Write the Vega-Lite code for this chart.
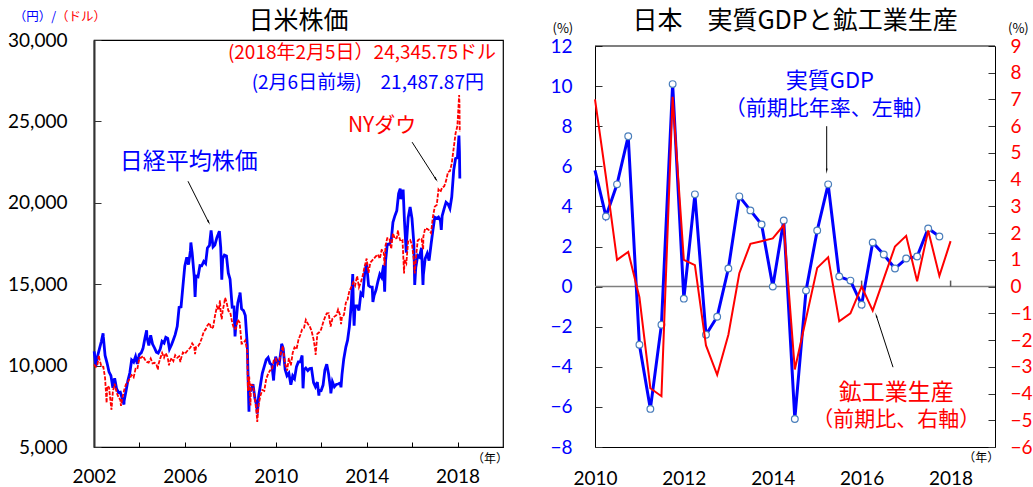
{
  "$schema": "https://vega.github.io/schema/vega-lite/v6.json",
  "background": "white",
  "padding": {"left": 6, "top": 8, "right": 0, "bottom": 0},
  "spacing": 40,
  "config": {
    "view": {"stroke": null},
    "axis": {"labelFont": "Lato", "grid": false},
    "text": {"font": "Noto Sans CJK JP"}
  },
  "datasets": {
    "nikkei": [
      {"d": "2002-01-04", "v": 10871}, {"d": "2002-01-31", "v": 9998}, {"d": "2002-02-28", "v": 10588}, {"d": "2002-03-29", "v": 11025},
      {"d": "2002-04-30", "v": 11493}, {"d": "2002-05-27", "v": 11980}, {"d": "2002-05-31", "v": 11764}, {"d": "2002-06-28", "v": 10622},
      {"d": "2002-07-31", "v": 10140}, {"d": "2002-08-30", "v": 9620}, {"d": "2002-09-30", "v": 9383}, {"d": "2002-10-31", "v": 8640},
      {"d": "2002-11-29", "v": 9216}, {"d": "2002-12-30", "v": 8579}, {"d": "2003-01-31", "v": 8340}, {"d": "2003-02-28", "v": 8363},
      {"d": "2003-03-31", "v": 7973}, {"d": "2003-04-28", "v": 7608}, {"d": "2003-04-30", "v": 7831}, {"d": "2003-05-30", "v": 8425},
      {"d": "2003-06-30", "v": 9083}, {"d": "2003-07-31", "v": 9563}, {"d": "2003-08-29", "v": 10344}, {"d": "2003-09-30", "v": 10219},
      {"d": "2003-10-31", "v": 10560}, {"d": "2003-11-28", "v": 10101}, {"d": "2003-12-30", "v": 10677}, {"d": "2004-01-30", "v": 10784},
      {"d": "2004-02-27", "v": 11042}, {"d": "2004-03-31", "v": 11715}, {"d": "2004-04-26", "v": 12163}, {"d": "2004-04-30", "v": 11762},
      {"d": "2004-05-31", "v": 11236}, {"d": "2004-06-30", "v": 11859}, {"d": "2004-07-30", "v": 11326}, {"d": "2004-08-31", "v": 11082},
      {"d": "2004-09-30", "v": 10824}, {"d": "2004-10-29", "v": 10771}, {"d": "2004-11-30", "v": 11013}, {"d": "2004-12-30", "v": 11489},
      {"d": "2005-01-31", "v": 11388}, {"d": "2005-02-28", "v": 11740}, {"d": "2005-03-31", "v": 11669}, {"d": "2005-04-28", "v": 11009},
      {"d": "2005-05-31", "v": 11277}, {"d": "2005-06-30", "v": 11584}, {"d": "2005-07-29", "v": 11900}, {"d": "2005-08-31", "v": 12414},
      {"d": "2005-09-30", "v": 13574}, {"d": "2005-10-31", "v": 13607}, {"d": "2005-11-30", "v": 14872}, {"d": "2005-12-30", "v": 16111},
      {"d": "2006-01-31", "v": 16650}, {"d": "2006-02-28", "v": 16205}, {"d": "2006-03-31", "v": 17060}, {"d": "2006-04-07", "v": 17563},
      {"d": "2006-04-28", "v": 16906}, {"d": "2006-05-31", "v": 15467}, {"d": "2006-06-14", "v": 14219}, {"d": "2006-06-30", "v": 15505},
      {"d": "2006-07-31", "v": 15457}, {"d": "2006-08-31", "v": 16141}, {"d": "2006-09-29", "v": 16128}, {"d": "2006-10-31", "v": 16399},
      {"d": "2006-11-30", "v": 16274}, {"d": "2006-12-29", "v": 17226}, {"d": "2007-01-31", "v": 17383}, {"d": "2007-02-26", "v": 18300},
      {"d": "2007-03-30", "v": 17288}, {"d": "2007-04-27", "v": 17400}, {"d": "2007-05-31", "v": 17876}, {"d": "2007-06-29", "v": 18138},
      {"d": "2007-07-09", "v": 18262}, {"d": "2007-07-31", "v": 17249}, {"d": "2007-08-17", "v": 15273}, {"d": "2007-08-31", "v": 16569},
      {"d": "2007-09-28", "v": 16786}, {"d": "2007-10-31", "v": 16737}, {"d": "2007-11-30", "v": 15681}, {"d": "2007-12-28", "v": 15308},
      {"d": "2008-01-31", "v": 13592}, {"d": "2008-02-29", "v": 13603}, {"d": "2008-03-17", "v": 11787}, {"d": "2008-03-31", "v": 12526},
      {"d": "2008-04-30", "v": 13850}, {"d": "2008-05-30", "v": 14339}, {"d": "2008-06-06", "v": 14489}, {"d": "2008-06-30", "v": 13481},
      {"d": "2008-07-31", "v": 13377}, {"d": "2008-08-29", "v": 13073}, {"d": "2008-09-30", "v": 11260}, {"d": "2008-10-27", "v": 7163},
      {"d": "2008-10-31", "v": 8577}, {"d": "2008-11-28", "v": 8512}, {"d": "2008-12-30", "v": 8860}, {"d": "2009-01-30", "v": 7994},
      {"d": "2009-02-27", "v": 7568}, {"d": "2009-03-10", "v": 7055}, {"d": "2009-03-31", "v": 8110}, {"d": "2009-04-30", "v": 8828},
      {"d": "2009-05-29", "v": 9523}, {"d": "2009-06-30", "v": 9958}, {"d": "2009-07-31", "v": 10357}, {"d": "2009-08-31", "v": 10493},
      {"d": "2009-09-30", "v": 10133}, {"d": "2009-10-30", "v": 10035}, {"d": "2009-11-27", "v": 9081}, {"d": "2009-11-30", "v": 9346},
      {"d": "2009-12-30", "v": 10546}, {"d": "2010-01-29", "v": 10198}, {"d": "2010-02-26", "v": 10126}, {"d": "2010-03-31", "v": 11090},
      {"d": "2010-04-05", "v": 11339}, {"d": "2010-04-30", "v": 11057}, {"d": "2010-05-31", "v": 9769}, {"d": "2010-06-30", "v": 9383},
      {"d": "2010-07-30", "v": 9537}, {"d": "2010-08-31", "v": 8824}, {"d": "2010-09-30", "v": 9369}, {"d": "2010-10-29", "v": 9202},
      {"d": "2010-11-30", "v": 9937}, {"d": "2010-12-30", "v": 10229}, {"d": "2011-01-31", "v": 10237}, {"d": "2011-02-28", "v": 10624},
      {"d": "2011-03-15", "v": 8605}, {"d": "2011-03-31", "v": 9755}, {"d": "2011-04-28", "v": 9850}, {"d": "2011-05-31", "v": 9694},
      {"d": "2011-06-30", "v": 9816}, {"d": "2011-07-29", "v": 9833}, {"d": "2011-08-31", "v": 8955}, {"d": "2011-09-30", "v": 8700},
      {"d": "2011-10-31", "v": 8988}, {"d": "2011-11-25", "v": 8160}, {"d": "2011-11-30", "v": 8435}, {"d": "2011-12-30", "v": 8455},
      {"d": "2012-01-31", "v": 8803}, {"d": "2012-02-29", "v": 9723}, {"d": "2012-03-30", "v": 10084}, {"d": "2012-04-27", "v": 9521},
      {"d": "2012-05-31", "v": 8543}, {"d": "2012-06-04", "v": 8296}, {"d": "2012-06-29", "v": 9007}, {"d": "2012-07-31", "v": 8695},
      {"d": "2012-08-31", "v": 8840}, {"d": "2012-09-28", "v": 8870}, {"d": "2012-10-31", "v": 8928}, {"d": "2012-11-14", "v": 8665},
      {"d": "2012-11-30", "v": 9446}, {"d": "2012-12-28", "v": 10395}, {"d": "2013-01-31", "v": 11139}, {"d": "2013-02-28", "v": 11559},
      {"d": "2013-03-29", "v": 12398}, {"d": "2013-04-30", "v": 13861}, {"d": "2013-05-22", "v": 15627}, {"d": "2013-05-31", "v": 13775},
      {"d": "2013-06-13", "v": 12445}, {"d": "2013-06-28", "v": 13677}, {"d": "2013-07-31", "v": 13668}, {"d": "2013-08-30", "v": 13389},
      {"d": "2013-09-30", "v": 14456}, {"d": "2013-10-31", "v": 14328}, {"d": "2013-11-29", "v": 15662}, {"d": "2013-12-30", "v": 16291},
      {"d": "2014-01-31", "v": 14915}, {"d": "2014-02-28", "v": 14841}, {"d": "2014-03-31", "v": 14828}, {"d": "2014-04-11", "v": 13910},
      {"d": "2014-04-30", "v": 14304}, {"d": "2014-05-30", "v": 14632}, {"d": "2014-06-30", "v": 15162}, {"d": "2014-07-31", "v": 15621},
      {"d": "2014-08-29", "v": 15425}, {"d": "2014-09-30", "v": 16174}, {"d": "2014-10-17", "v": 14533}, {"d": "2014-10-31", "v": 16414},
      {"d": "2014-11-28", "v": 17460}, {"d": "2014-12-30", "v": 17451}, {"d": "2015-01-30", "v": 17674}, {"d": "2015-02-27", "v": 18798},
      {"d": "2015-03-31", "v": 19207}, {"d": "2015-04-30", "v": 19520}, {"d": "2015-05-29", "v": 20563}, {"d": "2015-06-24", "v": 20868},
      {"d": "2015-06-30", "v": 20236}, {"d": "2015-07-31", "v": 20585}, {"d": "2015-08-10", "v": 20808}, {"d": "2015-08-31", "v": 18890},
      {"d": "2015-09-29", "v": 16931}, {"d": "2015-09-30", "v": 17388}, {"d": "2015-10-30", "v": 19083}, {"d": "2015-11-30", "v": 19747},
      {"d": "2015-12-30", "v": 19034}, {"d": "2016-01-29", "v": 17518}, {"d": "2016-02-12", "v": 14953}, {"d": "2016-02-29", "v": 16027},
      {"d": "2016-03-31", "v": 16759}, {"d": "2016-04-28", "v": 16666}, {"d": "2016-05-31", "v": 17235}, {"d": "2016-06-24", "v": 14952},
      {"d": "2016-06-30", "v": 15576}, {"d": "2016-07-29", "v": 16569}, {"d": "2016-08-31", "v": 16887}, {"d": "2016-09-30", "v": 16450},
      {"d": "2016-10-31", "v": 17425}, {"d": "2016-11-30", "v": 18308}, {"d": "2016-12-30", "v": 19114}, {"d": "2017-01-31", "v": 19041},
      {"d": "2017-02-28", "v": 19119}, {"d": "2017-03-31", "v": 18909}, {"d": "2017-04-14", "v": 18336}, {"d": "2017-04-28", "v": 19197},
      {"d": "2017-05-31", "v": 19651}, {"d": "2017-06-30", "v": 20033}, {"d": "2017-07-31", "v": 19925}, {"d": "2017-08-31", "v": 19646},
      {"d": "2017-09-29", "v": 20356}, {"d": "2017-10-31", "v": 22012}, {"d": "2017-11-30", "v": 22725}, {"d": "2017-12-29", "v": 22765},
      {"d": "2018-01-23", "v": 24124}, {"d": "2018-01-31", "v": 23098}, {"d": "2018-02-06", "v": 21488}
    ],
    "dow": [
      {"d": "2002-01-02", "v": 10073}, {"d": "2002-01-31", "v": 9920}, {"d": "2002-02-28", "v": 10106}, {"d": "2002-03-19", "v": 10635},
      {"d": "2002-03-28", "v": 10404}, {"d": "2002-04-30", "v": 9946}, {"d": "2002-05-31", "v": 9925}, {"d": "2002-06-28", "v": 9243},
      {"d": "2002-07-23", "v": 7702}, {"d": "2002-07-31", "v": 8737}, {"d": "2002-08-30", "v": 8664}, {"d": "2002-09-30", "v": 7592},
      {"d": "2002-10-09", "v": 7286}, {"d": "2002-10-31", "v": 8397}, {"d": "2002-11-29", "v": 8896}, {"d": "2002-12-31", "v": 8342},
      {"d": "2003-01-31", "v": 8054}, {"d": "2003-02-28", "v": 7891}, {"d": "2003-03-11", "v": 7524}, {"d": "2003-03-31", "v": 7992},
      {"d": "2003-04-30", "v": 8480}, {"d": "2003-05-30", "v": 8850}, {"d": "2003-06-30", "v": 8985}, {"d": "2003-07-31", "v": 9234},
      {"d": "2003-08-29", "v": 9416}, {"d": "2003-09-30", "v": 9275}, {"d": "2003-10-31", "v": 9801}, {"d": "2003-11-28", "v": 9782},
      {"d": "2003-12-31", "v": 10454}, {"d": "2004-01-30", "v": 10488}, {"d": "2004-02-27", "v": 10584}, {"d": "2004-03-31", "v": 10358},
      {"d": "2004-04-30", "v": 10226}, {"d": "2004-05-28", "v": 10188}, {"d": "2004-06-30", "v": 10435}, {"d": "2004-07-30", "v": 10140},
      {"d": "2004-08-31", "v": 10174}, {"d": "2004-09-30", "v": 10080}, {"d": "2004-10-25", "v": 9750}, {"d": "2004-10-29", "v": 10027},
      {"d": "2004-11-30", "v": 10428}, {"d": "2004-12-31", "v": 10783}, {"d": "2005-01-31", "v": 10490}, {"d": "2005-02-28", "v": 10766},
      {"d": "2005-03-31", "v": 10504}, {"d": "2005-04-20", "v": 10012}, {"d": "2005-04-29", "v": 10193}, {"d": "2005-05-31", "v": 10467},
      {"d": "2005-06-30", "v": 10275}, {"d": "2005-07-29", "v": 10641}, {"d": "2005-08-31", "v": 10482}, {"d": "2005-09-30", "v": 10569},
      {"d": "2005-10-21", "v": 10215}, {"d": "2005-10-31", "v": 10440}, {"d": "2005-11-30", "v": 10806}, {"d": "2005-12-30", "v": 10718},
      {"d": "2006-01-31", "v": 10865}, {"d": "2006-02-28", "v": 10993}, {"d": "2006-03-31", "v": 11109}, {"d": "2006-04-28", "v": 11367},
      {"d": "2006-05-31", "v": 11168}, {"d": "2006-06-13", "v": 10706}, {"d": "2006-06-30", "v": 11150}, {"d": "2006-07-31", "v": 11186},
      {"d": "2006-08-31", "v": 11381}, {"d": "2006-09-29", "v": 11679}, {"d": "2006-10-31", "v": 12081}, {"d": "2006-11-30", "v": 12222},
      {"d": "2006-12-29", "v": 12463}, {"d": "2007-01-31", "v": 12622}, {"d": "2007-02-28", "v": 12269}, {"d": "2007-03-30", "v": 12354},
      {"d": "2007-04-30", "v": 13063}, {"d": "2007-05-31", "v": 13628}, {"d": "2007-06-29", "v": 13409}, {"d": "2007-07-19", "v": 14000},
      {"d": "2007-07-31", "v": 13212}, {"d": "2007-08-16", "v": 12846}, {"d": "2007-08-31", "v": 13358}, {"d": "2007-09-28", "v": 13896},
      {"d": "2007-10-09", "v": 14165}, {"d": "2007-10-31", "v": 13930}, {"d": "2007-11-30", "v": 13372}, {"d": "2007-12-31", "v": 13265},
      {"d": "2008-01-31", "v": 12650}, {"d": "2008-02-29", "v": 12266}, {"d": "2008-03-31", "v": 12263}, {"d": "2008-04-30", "v": 12820},
      {"d": "2008-05-30", "v": 12638}, {"d": "2008-06-30", "v": 11350}, {"d": "2008-07-31", "v": 11378}, {"d": "2008-08-29", "v": 11544},
      {"d": "2008-09-30", "v": 10851}, {"d": "2008-10-10", "v": 8451}, {"d": "2008-10-31", "v": 9325}, {"d": "2008-11-20", "v": 7552},
      {"d": "2008-11-28", "v": 8829}, {"d": "2008-12-31", "v": 8776}, {"d": "2009-01-30", "v": 8001}, {"d": "2009-02-27", "v": 7063},
      {"d": "2009-03-09", "v": 6547}, {"d": "2009-03-31", "v": 7609}, {"d": "2009-04-30", "v": 8168}, {"d": "2009-05-29", "v": 8500},
      {"d": "2009-06-30", "v": 8447}, {"d": "2009-07-31", "v": 9172}, {"d": "2009-08-31", "v": 9496}, {"d": "2009-09-30", "v": 9712},
      {"d": "2009-10-30", "v": 9713}, {"d": "2009-11-30", "v": 10345}, {"d": "2009-12-31", "v": 10428}, {"d": "2010-01-29", "v": 10067},
      {"d": "2010-02-26", "v": 10325}, {"d": "2010-03-31", "v": 10857}, {"d": "2010-04-26", "v": 11205}, {"d": "2010-04-30", "v": 11009},
      {"d": "2010-05-28", "v": 10137}, {"d": "2010-06-30", "v": 9774}, {"d": "2010-07-02", "v": 9686}, {"d": "2010-07-30", "v": 10466},
      {"d": "2010-08-31", "v": 10015}, {"d": "2010-09-30", "v": 10788}, {"d": "2010-10-29", "v": 11118}, {"d": "2010-11-30", "v": 11006},
      {"d": "2010-12-31", "v": 11578}, {"d": "2011-01-31", "v": 11892}, {"d": "2011-02-28", "v": 12226}, {"d": "2011-03-31", "v": 12320},
      {"d": "2011-04-29", "v": 12811}, {"d": "2011-05-31", "v": 12570}, {"d": "2011-06-30", "v": 12414}, {"d": "2011-07-29", "v": 12143},
      {"d": "2011-08-31", "v": 11614}, {"d": "2011-09-30", "v": 10913}, {"d": "2011-10-03", "v": 10655}, {"d": "2011-10-31", "v": 11955},
      {"d": "2011-11-30", "v": 12046}, {"d": "2011-12-30", "v": 12218}, {"d": "2012-01-31", "v": 12633}, {"d": "2012-02-29", "v": 12952},
      {"d": "2012-03-30", "v": 13212}, {"d": "2012-04-30", "v": 13214}, {"d": "2012-05-31", "v": 12393}, {"d": "2012-06-29", "v": 12880},
      {"d": "2012-07-31", "v": 13009}, {"d": "2012-08-31", "v": 13091}, {"d": "2012-09-28", "v": 13437}, {"d": "2012-10-31", "v": 13096},
      {"d": "2012-11-15", "v": 12543}, {"d": "2012-11-30", "v": 13026}, {"d": "2012-12-31", "v": 13104}, {"d": "2013-01-31", "v": 13861},
      {"d": "2013-02-28", "v": 14054}, {"d": "2013-03-28", "v": 14579}, {"d": "2013-04-30", "v": 14840}, {"d": "2013-05-31", "v": 15116},
      {"d": "2013-06-28", "v": 14910}, {"d": "2013-07-31", "v": 15500}, {"d": "2013-08-30", "v": 14810}, {"d": "2013-09-30", "v": 15130},
      {"d": "2013-10-31", "v": 15546}, {"d": "2013-11-29", "v": 16086}, {"d": "2013-12-31", "v": 16577}, {"d": "2014-01-31", "v": 15699},
      {"d": "2014-02-28", "v": 16322}, {"d": "2014-03-31", "v": 16458}, {"d": "2014-04-30", "v": 16581}, {"d": "2014-05-30", "v": 16717},
      {"d": "2014-06-30", "v": 16827}, {"d": "2014-07-31", "v": 16563}, {"d": "2014-08-29", "v": 17098}, {"d": "2014-09-30", "v": 17043},
      {"d": "2014-10-15", "v": 16142}, {"d": "2014-10-31", "v": 17391}, {"d": "2014-11-28", "v": 17828}, {"d": "2014-12-31", "v": 17823},
      {"d": "2015-01-30", "v": 17165}, {"d": "2015-02-27", "v": 18133}, {"d": "2015-03-31", "v": 17776}, {"d": "2015-04-30", "v": 17841},
      {"d": "2015-05-19", "v": 18312}, {"d": "2015-05-29", "v": 18011}, {"d": "2015-06-30", "v": 17620}, {"d": "2015-07-31", "v": 17690},
      {"d": "2015-08-25", "v": 15666}, {"d": "2015-08-31", "v": 16528}, {"d": "2015-09-30", "v": 16285}, {"d": "2015-10-30", "v": 17664},
      {"d": "2015-11-30", "v": 17720}, {"d": "2015-12-31", "v": 17425}, {"d": "2016-01-29", "v": 16466}, {"d": "2016-02-11", "v": 15660},
      {"d": "2016-02-29", "v": 16517}, {"d": "2016-03-31", "v": 17685}, {"d": "2016-04-29", "v": 17774}, {"d": "2016-05-31", "v": 17787},
      {"d": "2016-06-27", "v": 17140}, {"d": "2016-06-30", "v": 17930}, {"d": "2016-07-29", "v": 18432}, {"d": "2016-08-31", "v": 18401},
      {"d": "2016-09-30", "v": 18308}, {"d": "2016-10-31", "v": 18142}, {"d": "2016-11-30", "v": 19124}, {"d": "2016-12-30", "v": 19763},
      {"d": "2017-01-31", "v": 19864}, {"d": "2017-02-28", "v": 20812}, {"d": "2017-03-31", "v": 20663}, {"d": "2017-04-28", "v": 20941},
      {"d": "2017-05-31", "v": 21009}, {"d": "2017-06-30", "v": 21350}, {"d": "2017-07-31", "v": 21891}, {"d": "2017-08-31", "v": 21948},
      {"d": "2017-09-29", "v": 22405}, {"d": "2017-10-31", "v": 23377}, {"d": "2017-11-30", "v": 24272}, {"d": "2017-12-29", "v": 24719},
      {"d": "2018-01-26", "v": 26617}, {"d": "2018-01-31", "v": 26149}, {"d": "2018-02-05", "v": 24346}
    ],
    "gdp": [
      {"t": "2010-01-01", "g": 5.8}, {"t": "2010-04-01", "g": 3.5}, {"t": "2010-07-01", "g": 5.1}, {"t": "2010-10-01", "g": 7.5},
      {"t": "2011-01-01", "g": -2.9}, {"t": "2011-04-01", "g": -6.1}, {"t": "2011-07-01", "g": -1.9}, {"t": "2011-10-01", "g": 10.1},
      {"t": "2012-01-01", "g": -0.6}, {"t": "2012-04-01", "g": 4.6}, {"t": "2012-07-01", "g": -2.4}, {"t": "2012-10-01", "g": -1.5},
      {"t": "2013-01-01", "g": 0.9}, {"t": "2013-04-01", "g": 4.5}, {"t": "2013-07-01", "g": 3.8}, {"t": "2013-10-01", "g": 3.1},
      {"t": "2014-01-01", "g": 0.0}, {"t": "2014-04-01", "g": 3.3}, {"t": "2014-07-01", "g": -6.6}, {"t": "2014-10-01", "g": -0.2},
      {"t": "2015-01-01", "g": 2.8}, {"t": "2015-04-01", "g": 5.1}, {"t": "2015-07-01", "g": 0.5}, {"t": "2015-10-01", "g": 0.3},
      {"t": "2016-01-01", "g": -0.9}, {"t": "2016-04-01", "g": 2.2}, {"t": "2016-07-01", "g": 1.6}, {"t": "2016-10-01", "g": 0.9},
      {"t": "2017-01-01", "g": 1.4}, {"t": "2017-04-01", "g": 1.5}, {"t": "2017-07-01", "g": 2.9}, {"t": "2017-10-01", "g": 2.5}
    ],
    "ip": [
      {"t": "2010-01-01", "p": 7.0}, {"t": "2010-04-01", "p": 4.1}, {"t": "2010-07-01", "p": 1.0}, {"t": "2010-10-01", "p": 1.3},
      {"t": "2011-01-01", "p": -0.4}, {"t": "2011-04-01", "p": -3.8}, {"t": "2011-07-01", "p": -4.1}, {"t": "2011-10-01", "p": 7.1},
      {"t": "2012-01-01", "p": 1.0}, {"t": "2012-04-01", "p": 0.8}, {"t": "2012-07-01", "p": -2.2}, {"t": "2012-10-01", "p": -3.3},
      {"t": "2013-01-01", "p": -1.8}, {"t": "2013-04-01", "p": 0.5}, {"t": "2013-07-01", "p": 1.6}, {"t": "2013-10-01", "p": 1.7},
      {"t": "2014-01-01", "p": 1.8}, {"t": "2014-04-01", "p": 2.3}, {"t": "2014-07-01", "p": -3.1}, {"t": "2014-10-01", "p": -1.2},
      {"t": "2015-01-01", "p": 0.7}, {"t": "2015-04-01", "p": 1.1}, {"t": "2015-07-01", "p": -1.3}, {"t": "2015-10-01", "p": -1.0},
      {"t": "2016-01-01", "p": 0.0}, {"t": "2016-04-01", "p": -0.9}, {"t": "2016-07-01", "p": 0.3}, {"t": "2016-10-01", "p": 1.5},
      {"t": "2017-01-01", "p": 1.9}, {"t": "2017-04-01", "p": 0.2}, {"t": "2017-07-01", "p": 2.1}, {"t": "2017-10-01", "p": 0.4},
      {"t": "2018-01-01", "p": 1.7}
    ],
    "zt": [{"t": "2012-01-01"}, {"t": "2014-01-01"}, {"t": "2016-01-01"}, {"t": "2018-01-01"}]
  },
  "hconcat": [
    {
      "width": 409,
      "height": 407,
      "view": {"stroke": "black", "strokeWidth": 1.2},
      "title": {"text": "日米株価", "font": "Noto Sans CJK JP", "fontSize": 25, "fontWeight": "normal", "color": "black", "offset": -23},
      "layer": [
        {
          "data": {"name": "nikkei"},
          "mark": {"type": "line", "color": "#0000FF", "strokeWidth": 2.8},
          "encoding": {
            "x": {"field": "d", "type": "temporal",
              "scale": {"domain": [{"year": 2002, "month": 1, "date": 1}, {"year": 2020, "month": 1, "date": 1}]},
              "axis": {"title": null, "values": [{"year": 2002}, {"year": 2003}, {"year": 2004}, {"year": 2005}, {"year": 2006}, {"year": 2007}, {"year": 2008}, {"year": 2009}, {"year": 2010}, {"year": 2011}, {"year": 2012}, {"year": 2013}, {"year": 2014}, {"year": 2015}, {"year": 2016}, {"year": 2017}, {"year": 2018}, {"year": 2019}],
                "format": "%Y", "labelExpr": "year(datum.value) % 4 == 2 ? datum.label : ''",
                "tickSize": -5, "tickColor": "black", "domainColor": "black", "labelFontSize": 19, "labelColor": "black", "labelPadding": 25, "labelOverlap": false, "labelFlush": false}},
            "y": {"field": "v", "type": "quantitative",
              "scale": {"domain": [5000, 30000]},
              "axis": {"title": null, "values": [5000, 10000, 15000, 20000, 25000, 30000], "format": ",d", "tickSize": -7, "tickColor": "#333333", "domainColor": "#333333", "domainWidth": 2, "labelFontSize": 19, "labelColor": "black", "labelPadding": 34}}
          }
        },
        {
          "data": {"name": "dow"},
          "mark": {"type": "line", "color": "#FF0000", "strokeWidth": 1.8, "strokeDash": [4, 1.5]},
          "encoding": {"x": {"field": "d", "type": "temporal", "scale": {"domain": [{"year": 2002, "month": 1, "date": 1}, {"year": 2020, "month": 1, "date": 1}]}},
                       "y": {"field": "v", "type": "quantitative", "scale": {"domain": [5000, 30000]}}}
        },
        {
          "data": {"values": [{}]},
          "mark": {"type": "text", "text": "(2018年2月5日）24,345.75ドル", "align": "right", "baseline": "middle", "fontSize": 19, "color": "#FF0000"},
          "encoding": {"x": {"datum": {"year": 2019, "month": 9, "date": 10}, "type": "temporal", "scale": {"domain": [{"year": 2002, "month": 1, "date": 1}, {"year": 2020, "month": 1, "date": 1}]}},
                       "y": {"datum": 29209, "type": "quantitative", "scale": {"domain": [5000, 30000]}}}
        },
        {
          "data": {"values": [{}]},
          "mark": {"type": "text", "text": "(2月6日前場)　21,487.87円", "align": "right", "baseline": "middle", "fontSize": 19, "color": "#0000FF"},
          "encoding": {"x": {"datum": {"year": 2019, "month": 3, "date": 1}, "type": "temporal", "scale": {"domain": [{"year": 2002, "month": 1, "date": 1}, {"year": 2020, "month": 1, "date": 1}]}},
                       "y": {"datum": 27361, "type": "quantitative", "scale": {"domain": [5000, 30000]}}}
        },
        {
          "data": {"values": [{}]},
          "mark": {"type": "text", "text": "日経平均株価", "align": "left", "baseline": "middle", "fontSize": 23, "color": "#0000FF"},
          "encoding": {"x": {"datum": {"year": 2003, "month": 2, "date": 20}, "type": "temporal", "scale": {"domain": [{"year": 2002, "month": 1, "date": 1}, {"year": 2020, "month": 1, "date": 1}]}},
                       "y": {"datum": 22494, "type": "quantitative", "scale": {"domain": [5000, 30000]}}}
        },
        {
          "data": {"values": [{}]},
          "mark": {"type": "text", "text": "NYダウ", "align": "left", "baseline": "middle", "fontSize": 21, "color": "#FF0000"},
          "encoding": {"x": {"datum": {"year": 2013, "month": 3, "date": 5}, "type": "temporal", "scale": {"domain": [{"year": 2002, "month": 1, "date": 1}, {"year": 2020, "month": 1, "date": 1}]}},
                       "y": {"datum": 24712, "type": "quantitative", "scale": {"domain": [5000, 30000]}}}
        },
        {
          "data": {"values": [{}]},
          "mark": {"type": "rule", "color": "black", "strokeWidth": 1},
          "encoding": {"x": {"datum": {"year": 2006, "month": 2, "date": 20}, "type": "temporal", "scale": {"domain": [{"year": 2002, "month": 1, "date": 1}, {"year": 2020, "month": 1, "date": 1}]}},
                       "y": {"datum": 21324, "type": "quantitative", "scale": {"domain": [5000, 30000]}},
                       "x2": {"datum": {"year": 2007, "month": 1, "date": 20}}, "y2": {"datum": 18780}}
        },
        {
          "data": {"values": [{}]},
          "mark": {"type": "point", "shape": "wedge", "filled": true, "color": "black", "size": 40, "angle": 153, "opacity": 1},
          "encoding": {"x": {"datum": {"year": 2007, "month": 1, "date": 15}, "type": "temporal", "scale": {"domain": [{"year": 2002, "month": 1, "date": 1}, {"year": 2020, "month": 1, "date": 1}]}},
                       "y": {"datum": 18830, "type": "quantitative", "scale": {"domain": [5000, 30000]}}}
        },
        {
          "data": {"values": [{}]},
          "mark": {"type": "rule", "color": "black", "strokeWidth": 1},
          "encoding": {"x": {"datum": {"year": 2016, "month": 1, "date": 1}, "type": "temporal", "scale": {"domain": [{"year": 2002, "month": 1, "date": 1}, {"year": 2020, "month": 1, "date": 1}]}},
                       "y": {"datum": 23726, "type": "quantitative", "scale": {"domain": [5000, 30000]}},
                       "x2": {"datum": {"year": 2017, "month": 1, "date": 25}}, "y2": {"datum": 21400}}
        },
        {
          "data": {"values": [{}]},
          "mark": {"type": "point", "shape": "wedge", "filled": true, "color": "black", "size": 40, "angle": 147, "opacity": 1},
          "encoding": {"x": {"datum": {"year": 2017, "month": 1, "date": 15}, "type": "temporal", "scale": {"domain": [{"year": 2002, "month": 1, "date": 1}, {"year": 2020, "month": 1, "date": 1}]}},
                       "y": {"datum": 21472, "type": "quantitative", "scale": {"domain": [5000, 30000]}}}
        },
        {
          "data": {"values": [{}]},
          "mark": {"type": "text", "text": "（年）", "align": "center", "baseline": "middle", "fontSize": 12, "color": "black"},
          "encoding": {"x": {"datum": {"year": 2019, "month": 6, "date": 5}, "type": "temporal", "scale": {"domain": [{"year": 2002, "month": 1, "date": 1}, {"year": 2020, "month": 1, "date": 1}]}},
                       "y": {"datum": 4261, "type": "quantitative", "scale": {"domain": [5000, 30000]}}}
        },
        {
          "data": {"values": [{}]},
          "mark": {"type": "text", "text": "（円）/", "align": "right", "baseline": "middle", "fontSize": 12.5, "color": "#0000FF"},
          "encoding": {"x": {"datum": {"year": 2000, "month": 5, "date": 1}, "type": "temporal", "scale": {"domain": [{"year": 2002, "month": 1, "date": 1}, {"year": 2020, "month": 1, "date": 1}]}},
                       "y": {"datum": 31426, "type": "quantitative", "scale": {"domain": [5000, 30000]}}}
        },
        {
          "data": {"values": [{}]},
          "mark": {"type": "text", "text": "（ドル）", "align": "left", "baseline": "middle", "fontSize": 12.5, "color": "#FF0000"},
          "encoding": {"x": {"datum": {"year": 2000, "month": 5, "date": 1}, "type": "temporal", "scale": {"domain": [{"year": 2002, "month": 1, "date": 1}, {"year": 2020, "month": 1, "date": 1}]}},
                       "y": {"datum": 31426, "type": "quantitative", "scale": {"domain": [5000, 30000]}}}
        }
      ]
    },
    {
      "width": 400,
      "height": 407,
      "title": {"text": "日本　実質GDPと鉱工業生産", "font": "Noto Sans CJK JP", "fontSize": 25, "fontWeight": "normal", "color": "black", "offset": -11},
      "layer": [
        {
          "layer": [
            {
              "data": {"values": [{}]},
              "mark": {"type": "rule", "color": "#7f7f7f", "strokeWidth": 1.5},
              "encoding": {"y": {"datum": 0, "type": "quantitative", "scale": {"domain": [-8, 12], "range": [407, 6]}}}
            },
            {
              "data": {"values": [{}]},
              "mark": {"type": "rule", "color": "black", "strokeWidth": 1.2},
              "encoding": {"y": {"datum": 12, "type": "quantitative", "scale": {"domain": [-8, 12], "range": [407, 6]}}}
            },
            {
              "data": {"name": "zt"},
              "mark": {"type": "rule", "color": "#595959", "strokeWidth": 1.5},
              "encoding": {"x": {"field": "t", "type": "temporal", "scale": {"domain": [{"year": 2010, "month": 1, "date": 1}, {"year": 2019, "month": 1, "date": 1}]}},
                           "y": {"datum": 0, "type": "quantitative", "scale": {"domain": [-8, 12], "range": [407, 6]}}, "y2": {"datum": 0.3}}
            },
            {
              "data": {"name": "gdp"},
              "mark": {"type": "line", "color": "#0000FF", "strokeWidth": 3},
              "encoding": {
                "x": {"field": "t", "type": "temporal",
                  "scale": {"domain": [{"year": 2010, "month": 1, "date": 1}, {"year": 2019, "month": 1, "date": 1}]},
                  "axis": {"title": null, "values": [{"year": 2010}, {"year": 2012}, {"year": 2014}, {"year": 2016}, {"year": 2018}], "format": "%Y",
                    "ticks": false, "domainColor": "black", "labelFontSize": 19, "labelColor": "black", "labelPadding": 22, "labelFlush": false, "labelOverlap": false}},
                "y": {"field": "g", "type": "quantitative",
                  "scale": {"domain": [-8, 12], "range": [407, 6]},
                  "axis": {"title": null, "values": [-8, -6, -4, -2, 0, 2, 4, 6, 8, 10, 12], "tickSize": -7, "tickColor": "#333333", "domainColor": "black", "labelFontSize": 19, "labelColor": "#0000FF", "labelPadding": 30}}
              }
            },
            {
              "data": {"name": "gdp"},
              "transform": [{"filter": "datum.g !== 5.8"}],
              "mark": {"type": "point", "shape": "circle", "filled": true, "fill": "white", "stroke": "#4a7ebb", "strokeWidth": 1.2, "size": 45, "opacity": 1},
              "encoding": {"x": {"field": "t", "type": "temporal", "scale": {"domain": [{"year": 2010, "month": 1, "date": 1}, {"year": 2019, "month": 1, "date": 1}]}},
                           "y": {"field": "g", "type": "quantitative", "scale": {"domain": [-8, 12], "range": [407, 6]}}}
            },
            {
              "data": {"values": [{}]},
              "mark": {"type": "text", "text": "実質GDP", "align": "center", "baseline": "middle", "fontSize": 22, "color": "#0000FF"},
              "encoding": {"x": {"datum": {"year": 2015, "month": 4, "date": 15}, "type": "temporal", "scale": {"domain": [{"year": 2010, "month": 1, "date": 1}, {"year": 2019, "month": 1, "date": 1}]}},
                           "y": {"datum": 10.25, "type": "quantitative", "scale": {"domain": [-8, 12], "range": [407, 6]}}}
            },
            {
              "data": {"values": [{}]},
              "mark": {"type": "text", "text": "（前期比年率、左軸）", "align": "center", "baseline": "middle", "fontSize": 21, "color": "#0000FF"},
              "encoding": {"x": {"datum": {"year": 2015, "month": 4, "date": 15}, "type": "temporal", "scale": {"domain": [{"year": 2010, "month": 1, "date": 1}, {"year": 2019, "month": 1, "date": 1}]}},
                           "y": {"datum": 8.86, "type": "quantitative", "scale": {"domain": [-8, 12], "range": [407, 6]}}}
            },
            {
              "data": {"values": [{}]},
              "mark": {"type": "rule", "color": "black", "strokeWidth": 1},
              "encoding": {"x": {"datum": {"year": 2015, "month": 3, "date": 20}, "type": "temporal", "scale": {"domain": [{"year": 2010, "month": 1, "date": 1}, {"year": 2019, "month": 1, "date": 1}]}},
                           "y": {"datum": 8.0, "type": "quantitative", "scale": {"domain": [-8, 12], "range": [407, 6]}}, "y2": {"datum": 5.8}}
            },
            {
              "data": {"values": [{}]},
              "mark": {"type": "point", "shape": "wedge", "filled": true, "color": "black", "size": 40, "angle": 180, "opacity": 1},
              "encoding": {"x": {"datum": {"year": 2015, "month": 3, "date": 20}, "type": "temporal", "scale": {"domain": [{"year": 2010, "month": 1, "date": 1}, {"year": 2019, "month": 1, "date": 1}]}},
                           "y": {"datum": 5.8, "type": "quantitative", "scale": {"domain": [-8, 12], "range": [407, 6]}}}
            },
            {
              "data": {"values": [{}]},
              "mark": {"type": "text", "text": "鉱工業生産", "align": "center", "baseline": "middle", "fontSize": 23, "color": "#FF0000"},
              "encoding": {"x": {"datum": {"year": 2016, "month": 10, "date": 12}, "type": "temporal", "scale": {"domain": [{"year": 2010, "month": 1, "date": 1}, {"year": 2019, "month": 1, "date": 1}]}},
                           "y": {"datum": -5.3, "type": "quantitative", "scale": {"domain": [-8, 12], "range": [407, 6]}}}
            },
            {
              "data": {"values": [{}]},
              "mark": {"type": "text", "text": "（前期比、右軸）", "align": "center", "baseline": "middle", "fontSize": 21, "color": "#FF0000"},
              "encoding": {"x": {"datum": {"year": 2016, "month": 10, "date": 12}, "type": "temporal", "scale": {"domain": [{"year": 2010, "month": 1, "date": 1}, {"year": 2019, "month": 1, "date": 1}]}},
                           "y": {"datum": -6.65, "type": "quantitative", "scale": {"domain": [-8, 12], "range": [407, 6]}}}
            },
            {
              "data": {"values": [{}]},
              "mark": {"type": "rule", "color": "black", "strokeWidth": 1},
              "encoding": {"x": {"datum": {"year": 2016, "month": 9, "date": 15}, "type": "temporal", "scale": {"domain": [{"year": 2010, "month": 1, "date": 1}, {"year": 2019, "month": 1, "date": 1}]}},
                           "y": {"datum": -4.02, "type": "quantitative", "scale": {"domain": [-8, 12], "range": [407, 6]}},
                           "x2": {"datum": {"year": 2016, "month": 5, "date": 1}}, "y2": {"datum": -1.46}}
            },
            {
              "data": {"values": [{}]},
              "mark": {"type": "point", "shape": "wedge", "filled": true, "color": "black", "size": 40, "angle": -18, "opacity": 1},
              "encoding": {"x": {"datum": {"year": 2016, "month": 5, "date": 1}, "type": "temporal", "scale": {"domain": [{"year": 2010, "month": 1, "date": 1}, {"year": 2019, "month": 1, "date": 1}]}},
                           "y": {"datum": -1.46, "type": "quantitative", "scale": {"domain": [-8, 12], "range": [407, 6]}}}
            },
            {
              "data": {"values": [{}]},
              "mark": {"type": "text", "text": "(%)", "align": "center", "baseline": "middle", "fontSize": 13, "color": "black"},
              "encoding": {"x": {"datum": {"year": 2009, "month": 4, "date": 12}, "type": "temporal", "scale": {"domain": [{"year": 2010, "month": 1, "date": 1}, {"year": 2019, "month": 1, "date": 1}]}},
                           "y": {"datum": 12.85, "type": "quantitative", "scale": {"domain": [-8, 12], "range": [407, 6]}}}
            },
            {
              "data": {"values": [{}]},
              "mark": {"type": "text", "text": "(%)", "align": "center", "baseline": "middle", "fontSize": 13, "color": "black"},
              "encoding": {"x": {"datum": {"year": 2019, "month": 7, "date": 12}, "type": "temporal", "scale": {"domain": [{"year": 2010, "month": 1, "date": 1}, {"year": 2019, "month": 1, "date": 1}]}},
                           "y": {"datum": 12.85, "type": "quantitative", "scale": {"domain": [-8, 12], "range": [407, 6]}}}
            },
            {
              "data": {"values": [{}]},
              "mark": {"type": "text", "text": "（年）", "align": "center", "baseline": "middle", "fontSize": 12, "color": "black"},
              "encoding": {"x": {"datum": {"year": 2018, "month": 9, "date": 10}, "type": "temporal", "scale": {"domain": [{"year": 2010, "month": 1, "date": 1}, {"year": 2019, "month": 1, "date": 1}]}},
                           "y": {"datum": -8.56, "type": "quantitative", "scale": {"domain": [-8, 12], "range": [407, 6]}}}
            }
          ]
        },
        {
          "layer": [
            {
              "data": {"name": "ip"},
              "mark": {"type": "line", "color": "#FF0000", "strokeWidth": 2},
              "encoding": {
                "x": {"field": "t", "type": "temporal", "scale": {"domain": [{"year": 2010, "month": 1, "date": 1}, {"year": 2019, "month": 1, "date": 1}]}},
                "y": {"field": "p", "type": "quantitative",
                  "scale": {"domain": [-6, 9], "range": [407, 6]},
                  "axis": {"orient": "right", "title": null, "values": [-6, -5, -4, -3, -2, -1, 0, 1, 2, 3, 4, 5, 6, 7, 8, 9], "tickSize": -7, "tickColor": "#333333", "domainColor": "black", "labelFontSize": 19, "labelColor": "#FF0000", "labelPadding": 22}}
              }
            }
          ]
        }
      ],
      "resolve": {"scale": {"y": "independent"}, "axis": {"y": "independent"}}
    }
  ]
}
